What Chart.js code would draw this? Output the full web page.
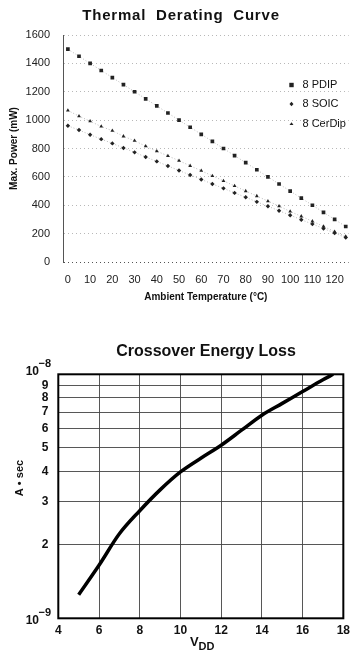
<!DOCTYPE html>
<html><head><meta charset="utf-8">
<script src="https://cdn.jsdelivr.net/npm/chart.js@4/dist/chart.umd.min.js"></script>
<style>
html,body{margin:0;padding:0;background:#fff;width:355px;height:651px;overflow:hidden}
#w1{position:absolute;left:0;top:0;width:355px;height:310px}
#w2{position:absolute;left:0;top:310px;width:355px;height:341px}
</style></head><body>
<div id="w1"><canvas id="c1"></canvas></div>
<div id="w2"><canvas id="c2"></canvas></div>
<script>
// ---------- Thermal Derating Curve data ----------
const tempC = [0,5,10,15,20,25,30,35,40,45,50,55,60,65,70,75,80,85,90,95,100,105,110,115,120,125];
const pdip  = [1500,1450,1400,1350,1300,1250,1200,1150,1100,1050,1000,950,900,850,800,750,700,650,600,550,500,450,400,350,300,250];
const soic  = [960,930,897,866,836,804,773,740,709,677,645,613,582,550,519,487,456,424,393,361,330,298,267,236,204,172];
const cerdip= [1068,1028,992,955,925,886,855,816,781,748,714,678,643,607,572,536,500,465,429,394,356,322,287,251,214,180];
const seriesNames = ['8 PDIP','8 SOIC','8 CerDip'];
const topXTicks = [0,10,20,30,40,50,60,70,80,90,100,110,120];
const topYTicks = [0,200,400,600,800,1000,1200,1400,1600];

// ---------- Crossover Energy Loss data ----------
const vdd    = [5,6,7,8,9,10,11,12,13,14,15,16,17,17.5];
const energy = [1.25e-9,1.65e-9,2.22e-9,2.76e-9,3.36e-9,3.98e-9,4.53e-9,5.12e-9,5.9e-9,6.8e-9,7.6e-9,8.5e-9,9.5e-9,1.0e-8];
const botXTicks = [4,6,8,10,12,14,16,18];
const botYTicks = [1e-9,2e-9,3e-9,4e-9,5e-9,6e-9,7e-9,8e-9,9e-9,1e-8];
const botYLabels = ['','2','3','4','5','6','7','8','9',''];

const FF = "'Liberation Sans', Arial, Helvetica, sans-serif";

function pts(xs, ys){ return xs.map((x,i)=>({x:x, y:ys[i]})); }

function marker(ctx, style, x, y, r){
  ctx.beginPath();
  if(style==='rect'){ ctx.rect(x-r, y-r, 2*r, 2*r); }
  else if(style==='rectRot'){ ctx.moveTo(x, y-r*1.3); ctx.lineTo(x+r*1.1, y); ctx.lineTo(x, y+r*1.3); ctx.lineTo(x-r*1.1, y); ctx.closePath(); }
  else { const h=r*1.5; ctx.moveTo(x, y-h*0.66); ctx.lineTo(x+r*1.1, y+h*0.4); ctx.lineTo(x-r*1.1, y+h*0.4); ctx.closePath(); }
  ctx.fill();
}

const topPlugin = {
  id:'topDecor',
  afterDraw(chart){
    const ctx = chart.ctx;
    ctx.save();
    ctx.fillStyle = '#111';
    ctx.font = 'bold 15px ' + FF;
    ctx.textAlign = 'center';
    ctx.textBaseline = 'middle';
    try{ ctx.letterSpacing = '0.8px'; }catch(e){}
    ctx.fillText('Thermal  Derating  Curve', 181, 16);
    try{ ctx.letterSpacing = '0px'; }catch(e){}
    // legend
    const styles = ['rect','rectRot','triangle'];
    const rs = [2.2,1.8,1.8];
    const ys = [85,104,124];
    ctx.font = '11px ' + FF;
    ctx.textAlign = 'left';
    for(let i=0;i<3;i++){
      ctx.fillStyle = '#222';
      marker(ctx, styles[i], 291.5, ys[i], rs[i]);
      ctx.fillStyle = '#111';
      ctx.fillText(seriesNames[i], 302.5, ys[i]);
    }
    ctx.restore();
  }
};

const dsCommon = {showLine:true, borderColor:'rgba(0,0,0,0.35)', borderWidth:0.8, borderDash:[1,2], backgroundColor:'#222', pointBorderColor:'#222', pointBorderWidth:0};

new Chart(document.getElementById('c1'), {
  type:'scatter',
  data:{ datasets:[
    Object.assign({label:seriesNames[0], data:pts(tempC,pdip), pointStyle:'rect', pointRadius:2.6}, dsCommon),
    Object.assign({label:seriesNames[1], data:pts(tempC,soic), pointStyle:'rectRot', pointRadius:2.2}, dsCommon),
    Object.assign({label:seriesNames[2], data:pts(tempC,cerdip), pointStyle:'triangle', pointRadius:2.2}, dsCommon)
  ]},
  options:{
    responsive:true, maintainAspectRatio:false, animation:false, devicePixelRatio:1,
    layout:{padding:{top:35,left:0,right:0,bottom:0}},
    plugins:{legend:{display:false}, tooltip:{enabled:false}, title:{display:false}},
    scales:{
      x:{type:'linear', min:-2.2, max:126.3,
        afterBuildTicks:s=>{ s.ticks = topXTicks.map(v=>({value:v})); },
        afterFit:s=>{ s.height = 48; },
        grid:{display:false, drawTicks:false},
        border:{display:false},
        ticks:{padding:11, maxRotation:0, autoSkip:false, color:'#222', font:{family:FF, size:11}, callback:v=>String(v)},
        title:{display:true, text:'Ambient Temperature (°C)', color:'#111', font:{family:FF, size:10, weight:'bold'}, padding:{top:0,bottom:7}}
      },
      y:{type:'linear', min:0, max:1600,
        afterBuildTicks:s=>{ s.ticks = topYTicks.map(v=>({value:v})); },
        afterFit:s=>{ s.width = 63; },
        grid:{drawTicks:false, lineWidth:1, color:c=> (c.tick && c.tick.value===0) ? '#555' : '#b8b8b8'},
        border:{display:true, color:'#555', width:1, dash:[1,3]},
        ticks:{padding:13, color:'#222', font:{family:FF, size:11}, callback:v=>String(v)},
        title:{display:true, text:'Max. Power (mW)', color:'#111', font:{family:FF, size:10, weight:'bold'}, padding:{top:8,bottom:0}}
      }
    }
  },
  plugins:[topPlugin]
});

const botPlugin = {
  id:'botDecor',
  afterDraw(chart){
    const ctx = chart.ctx, a = chart.chartArea, ys = chart.scales.y;
    ctx.save();
    ctx.strokeStyle = '#000'; ctx.lineWidth = 2;
    ctx.strokeRect(a.left, a.top, a.right-a.left, a.bottom-a.top);
    ctx.fillStyle = '#111';
    ctx.font = 'bold 16px ' + FF;
    ctx.textAlign = 'center'; ctx.textBaseline = 'middle';
    ctx.fillText('Crossover Energy Loss', 206, 42);
    // decade labels 10^-9 and 10^-8
    const dec = [[1e-9,'−9',2.5],[1e-8,'−8',-2.5]];
    dec.forEach(d=>{
      const py = ys.getPixelForValue(d[0]) + d[2];
      ctx.font = 'bold 12px ' + FF; ctx.textAlign='right';
      ctx.fillText('10', 39, py);
      ctx.font = 'bold 11px ' + FF; ctx.textAlign='left';
      ctx.fillText(d[1], 38.5, py-8);
    });
    // x title V_DD
    ctx.textAlign='left';
    ctx.font = 'bold 13px ' + FF;
    ctx.fillText('V', 190, 332);
    ctx.font = 'bold 11px ' + FF;
    ctx.fillText('DD', 198.5, 336.5);
    // y title
    ctx.translate(20, 168);
    ctx.rotate(-Math.PI/2);
    ctx.textAlign='center';
    ctx.font = 'bold 11px ' + FF;
    ctx.fillText('A • sec', 0, 0);
    ctx.restore();
  }
};

new Chart(document.getElementById('c2'), {
  type:'line',
  data:{ datasets:[{ data:pts(vdd,energy), borderColor:'#000', borderWidth:3.5, pointRadius:0, cubicInterpolationMode:'monotone', fill:false, borderCapStyle:'butt' }]},
  options:{
    responsive:true, maintainAspectRatio:false, animation:false, devicePixelRatio:1,
    layout:{padding:{top:64.3,left:0,right:7.3,bottom:0}},
    plugins:{legend:{display:false}, tooltip:{enabled:false}, title:{display:false}},
    scales:{
      x:{type:'linear', min:4, max:18,
        afterBuildTicks:s=>{ s.ticks = botXTicks.map(v=>({value:v})); },
        afterFit:s=>{ s.height = 32.7; },
        grid:{drawTicks:false, color:'#444', lineWidth:0.9},
        border:{display:false},
        ticks:{padding:5, maxRotation:0, autoSkip:false, color:'#111', font:{family:FF, size:12, weight:'bold'}, callback:v=>String(v)},
      },
      y:{type:'logarithmic', min:1e-9, max:1e-8,
        afterBuildTicks:s=>{ s.ticks = botYTicks.map(v=>({value:v})); },
        afterFit:s=>{ s.width = 58.3; },
        grid:{drawTicks:false, color:'#444', lineWidth:0.9},
        border:{display:false},
        ticks:{padding:10, autoSkip:false, color:'#111', font:{family:FF, size:12, weight:'bold'},
          callback:(v,i)=> botYLabels[i]}
      }
    }
  },
  plugins:[botPlugin]
});
</script>
</body></html>
